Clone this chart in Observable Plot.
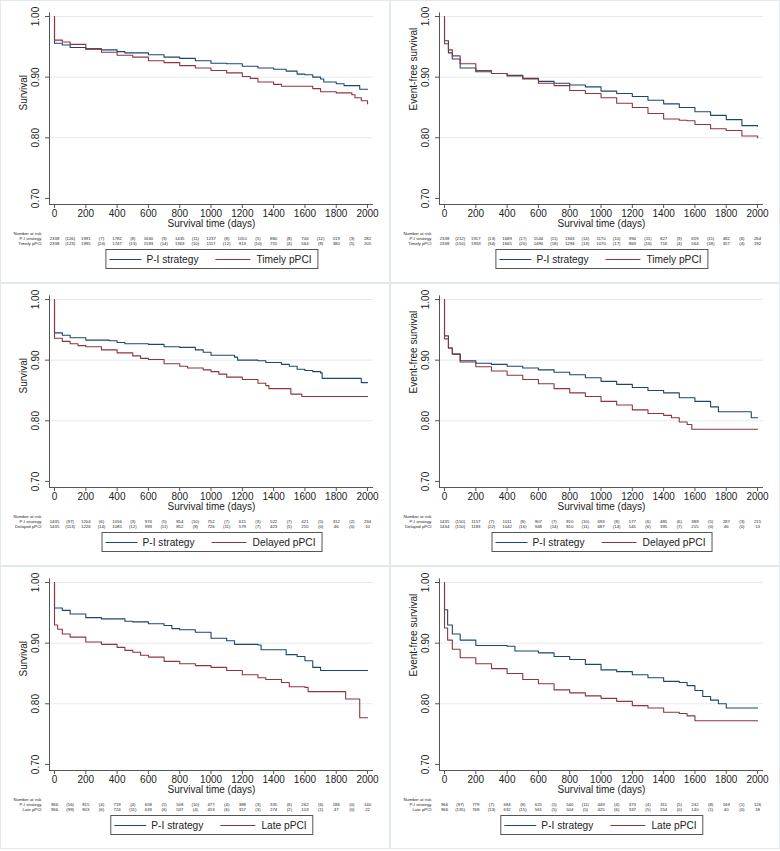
<!DOCTYPE html>
<html>
<head>
<meta charset="utf-8">
<script src="https://cdn.jsdelivr.net/npm/d3@7"></script>
<script src="https://cdn.jsdelivr.net/npm/@observablehq/plot@0.6"></script>
<style>
  body { margin: 0; background: #fff; }
  #root { position: relative; width: 780px; height: 851px; font-family: "Liberation Sans", Arial, sans-serif; }
  .panel { position: absolute; width: 390px; height: 283px; }
  .frame { position: absolute; left: 0; top: 0; width: 390px; height: 283px; box-sizing: border-box; border: 1px solid #e2e9ed; pointer-events: none; }
  .panel svg { position: absolute; left: 0; top: 0; }
  .legend { position: absolute; top: 249px; height: 20px; box-sizing: border-box; border: 1px solid #555; display: flex; align-items: center; padding: 0 6px 0 3px; font-size: 10.2px; color: #222; white-space: nowrap; transform: translateX(-50%); background: #fff; }
  .legend .sw { display: inline-block; height: 0; border-top: 1.2px solid; }
</style>
</head>
<body>
<div id="root"></div>
<script>
// ---- axes ----
const xTicks = [0, 200, 400, 600, 800, 1000, 1200, 1400, 1600, 1800, 2000];
const riskMid = [100, 300, 500, 700, 900, 1100, 1300, 1500, 1700, 1900];
const yTicks = [0.70, 0.80, 0.90, 1.00];
const gridVals = [0.80, 0.90, 1.00];

// ---- Panel 1: Survival, Timely pPCI ----
const p1_pi_t = [0,0,50,100,200,300,400,450,600,700,800,900,1000,1100,1200,1300,1400,1480,1550,1600,1650,1700,1720,1800,1850,1950,2000];
const p1_pi_s = [1,0.956,0.953,0.949,0.946,0.945,0.942,0.940,0.937,0.933,0.931,0.927,0.923,0.922,0.918,0.915,0.913,0.910,0.905,0.904,0.900,0.897,0.892,0.889,0.886,0.880,0.880];
const p1_cmp_t = [0,0,50,100,200,300,400,500,600,700,800,900,1000,1100,1200,1250,1300,1400,1450,1600,1650,1700,1800,1900,1920,1960,2000];
const p1_cmp_s = [1,0.961,0.958,0.954,0.947,0.941,0.936,0.933,0.927,0.924,0.919,0.915,0.911,0.907,0.901,0.898,0.892,0.888,0.885,0.885,0.881,0.876,0.874,0.871,0.866,0.861,0.856];
const p1_pi_n = [2338,1991,1782,1630,1435,1237,1051,880,706,519,282];
const p1_pi_e = [126,7,8,9,11,8,5,8,12,3];
const p1_cmp_n = [2338,1995,1747,1593,1363,1117,913,755,564,380,205];
const p1_cmp_e = [123,24,13,14,10,12,10,4,8,5];

// ---- Panel 2: Event-free survival, Timely pPCI ----
const p2_pi_t = [0,0,25,50,100,200,300,400,500,600,700,800,900,1000,1100,1200,1300,1400,1500,1600,1700,1800,1900,2000];
const p2_pi_s = [1,0.96,0.94,0.93,0.915,0.909,0.906,0.903,0.898,0.893,0.890,0.887,0.884,0.877,0.873,0.868,0.862,0.856,0.850,0.843,0.837,0.830,0.820,0.819];
const p2_cmp_t = [0,0,25,50,100,200,300,400,500,600,700,800,900,1000,1100,1200,1300,1400,1500,1550,1600,1700,1800,1900,2000];
const p2_cmp_s = [1,0.955,0.945,0.935,0.922,0.911,0.906,0.902,0.897,0.890,0.886,0.878,0.873,0.866,0.857,0.850,0.840,0.831,0.829,0.828,0.822,0.815,0.812,0.803,0.800];
const p2_pi_n = [2338,1917,1689,1544,1363,1170,994,827,659,482,264];
const p2_pi_e = [212,13,17,11,14,10,11,9,11,6];
const p2_cmp_n = [2338,1933,1665,1490,1294,1070,869,716,564,357,192];
const p2_cmp_e = [150,34,20,18,13,17,16,4,18,4];

// ---- Panel 3: Survival, Delayed pPCI ----
const p3_pi_t = [0,0,50,100,200,350,400,450,600,700,800,900,950,1000,1150,1170,1300,1350,1450,1500,1550,1600,1650,1700,1710,1950,1960,2000];
const p3_pi_s = [1,0.945,0.941,0.937,0.933,0.932,0.929,0.927,0.926,0.922,0.921,0.917,0.913,0.908,0.905,0.900,0.899,0.896,0.893,0.890,0.885,0.883,0.881,0.879,0.870,0.870,0.863,0.863];
const p3_cmp_t = [0,0,50,100,150,200,300,400,500,550,600,700,800,850,950,1000,1050,1100,1200,1300,1350,1370,1480,1510,1580,2000];
const p3_cmp_s = [1,0.936,0.931,0.927,0.924,0.922,0.917,0.912,0.907,0.903,0.901,0.894,0.890,0.887,0.884,0.881,0.877,0.872,0.868,0.862,0.858,0.853,0.853,0.844,0.840,0.840];
const p3_pi_n = [1435,1204,1056,974,854,752,615,522,421,312,234];
const p3_pi_e = [97,6,3,5,10,7,3,7,5,2];
const p3_cmp_n = [1435,1226,1085,993,852,726,579,423,255,46,10];
const p3_cmp_e = [113,14,12,11,8,11,7,5,0,0];

// ---- Panel 4: Event-free survival, Delayed pPCI ----
const p4_pi_t = [0,0,25,50,100,200,300,400,500,600,700,800,900,1000,1100,1200,1300,1400,1500,1600,1700,1750,1950,1960,2000];
const p4_pi_s = [1,0.94,0.92,0.91,0.899,0.895,0.893,0.890,0.887,0.884,0.880,0.876,0.871,0.865,0.860,0.855,0.850,0.846,0.838,0.832,0.823,0.815,0.815,0.805,0.805];
const p4_cmp_t = [0,0,25,50,100,200,300,400,500,600,700,800,900,1000,1100,1200,1300,1400,1450,1500,1550,1580,2000];
const p4_cmp_s = [1,0.935,0.92,0.91,0.897,0.889,0.882,0.875,0.868,0.861,0.853,0.846,0.840,0.832,0.826,0.818,0.812,0.809,0.805,0.798,0.794,0.786,0.786];
const p4_pi_n = [1435,1157,1011,907,810,693,577,485,389,287,215];
const p4_pi_e = [150,7,8,7,10,8,6,6,5,3];
const p4_cmp_n = [1434,1183,1042,948,810,687,545,395,215,46,13];
const p4_cmp_e = [150,22,16,14,11,14,6,7,0,0];

// ---- Panel 5: Survival, Late pPCI ----
const p5_pi_t = [0,0,50,100,200,300,450,500,600,700,750,800,900,1000,1100,1150,1300,1320,1450,1480,1550,1600,1650,1700,2000];
const p5_pi_s = [1,0.958,0.954,0.948,0.942,0.940,0.936,0.935,0.932,0.929,0.924,0.922,0.918,0.908,0.904,0.898,0.897,0.889,0.889,0.881,0.878,0.871,0.860,0.855,0.855];
const p5_cmp_t = [0,0,20,50,100,200,300,400,450,500,550,600,700,800,900,1000,1100,1200,1300,1350,1450,1500,1600,1620,1850,1860,1940,1950,2000];
const p5_cmp_s = [1,0.930,0.923,0.915,0.910,0.902,0.898,0.893,0.888,0.885,0.880,0.877,0.870,0.866,0.863,0.860,0.855,0.848,0.843,0.840,0.835,0.828,0.827,0.820,0.820,0.808,0.808,0.777,0.777];
const p5_pi_n = [966,815,719,658,508,477,388,335,262,186,140];
const p5_pi_e = [56,4,4,5,10,4,3,6,6,0];
const p5_cmp_n = [966,803,724,633,537,453,357,274,103,47,22];
const p5_cmp_e = [99,6,11,6,4,6,3,2,1,0];

// ---- Panel 6: Event-free survival, Late pPCI ----
const p6_pi_t = [0,0,20,50,100,200,400,450,600,700,800,900,1000,1100,1200,1300,1400,1500,1550,1600,1650,1700,1750,1800,2000];
const p6_pi_s = [1,0.955,0.93,0.915,0.905,0.896,0.895,0.887,0.884,0.878,0.873,0.865,0.856,0.853,0.848,0.843,0.837,0.835,0.830,0.822,0.812,0.806,0.800,0.793,0.793];
const p6_cmp_t = [0,0,20,50,100,200,300,400,500,600,700,800,900,1000,1100,1200,1300,1400,1500,1550,1600,2000];
const p6_cmp_s = [1,0.925,0.905,0.89,0.876,0.866,0.858,0.850,0.840,0.833,0.823,0.818,0.813,0.809,0.804,0.797,0.793,0.786,0.784,0.780,0.772,0.772];
const p6_pi_n = [966,779,684,625,540,449,373,311,242,169,126];
const p6_pi_e = [97,7,8,5,11,4,4,5,8,1];
const p6_cmp_n = [966,768,632,561,504,425,337,254,140,40,18];
const p6_cmp_e = [135,13,15,5,5,6,5,0,1,0];

const seriesPI = "P-I strategy";
const ylabels = ["Survival", "Event-free survival"];
const xlabel = "Survival time (days)";
const riskHeader = "Number at risk";
const BLUE = "#1a476f", RED = "#90353b";
const FONT = "Liberation Sans, Arial, sans-serif";

const panels = [
  {row: 0, col: 0, yl: ylabels[0], cmp: "Timely pPCI", pt: p1_pi_t, ps: p1_pi_s, ct: p1_cmp_t, cs: p1_cmp_s, pn: p1_pi_n, pe: p1_pi_e, cn: p1_cmp_n, ce: p1_cmp_e},
  {row: 0, col: 1, yl: ylabels[1], cmp: "Timely pPCI", pt: p2_pi_t, ps: p2_pi_s, ct: p2_cmp_t, cs: p2_cmp_s, pn: p2_pi_n, pe: p2_pi_e, cn: p2_cmp_n, ce: p2_cmp_e},
  {row: 1, col: 0, yl: ylabels[0], cmp: "Delayed pPCI", pt: p3_pi_t, ps: p3_pi_s, ct: p3_cmp_t, cs: p3_cmp_s, pn: p3_pi_n, pe: p3_pi_e, cn: p3_cmp_n, ce: p3_cmp_e},
  {row: 1, col: 1, yl: ylabels[1], cmp: "Delayed pPCI", pt: p4_pi_t, ps: p4_pi_s, ct: p4_cmp_t, cs: p4_cmp_s, pn: p4_pi_n, pe: p4_pi_e, cn: p4_cmp_n, ce: p4_cmp_e},
  {row: 2, col: 0, yl: ylabels[0], cmp: "Late pPCI", pt: p5_pi_t, ps: p5_pi_s, ct: p5_cmp_t, cs: p5_cmp_s, pn: p5_pi_n, pe: p5_pi_e, cn: p5_cmp_n, ce: p5_cmp_e},
  {row: 2, col: 1, yl: ylabels[1], cmp: "Late pPCI", pt: p6_pi_t, ps: p6_pi_s, ct: p6_cmp_t, cs: p6_cmp_s, pn: p6_pi_n, pe: p6_pi_e, cn: p6_cmp_n, ce: p6_cmp_e},
];

const root = document.getElementById("root");
const AX = "#555";
const RF = 4.3;

for (const p of panels) {
  const piData = p.pt.map((t, i) => ({t, s: p.ps[i]}));
  const cmpData = p.ct.map((t, i) => ({t, s: p.cs[i]}));
  const svg = Plot.plot({
    width: 390, height: 248,
    marginTop: 16, marginLeft: 49, marginRight: 17, marginBottom: 44,
    x: {domain: [-32, 2038], axis: null, label: null},
    y: {domain: [0.69, 1.0], axis: null, label: null},
    style: {background: "transparent", fontFamily: FONT, color: "#222", overflow: "visible"},
    marks: [
      Plot.ruleY(gridVals, {stroke: "#e4ecef", strokeWidth: 1}),
      Plot.ruleX([-32], {y1: 0.69, y2: 1.006, stroke: AX}),
      Plot.ruleY([0.69], {stroke: AX}),
      Plot.axisY({ticks: yTicks, tickSize: 4, tickFormat: () => "", stroke: AX, label: null}),
      Plot.text(yTicks, {x: -32, y: d => d, text: d => d.toFixed(2), rotate: -90, dx: -14, fontSize: 10, fill: "#222"}),
      Plot.axisX({ticks: xTicks, tickSize: 4, tickPadding: 1, tickFormat: d => String(d), fontSize: 10, stroke: AX, fill: "#222", label: null}),
      Plot.text([p.yl], {frameAnchor: "left", dx: -26, rotate: -90, fontSize: 10, fill: "#222"}),
      Plot.text([xlabel], {frameAnchor: "bottom", dy: 22.5, fontSize: 10, fill: "#222"}),
      Plot.line(piData, {x: "t", y: "s", curve: "step-after", stroke: BLUE, strokeWidth: 1.1}),
      Plot.line(cmpData, {x: "t", y: "s", curve: "step-after", stroke: RED, strokeWidth: 1.1}),
      // number at risk table
      Plot.text([riskHeader], {frameAnchor: "bottom-left", dx: -36, dy: 30.5, textAnchor: "start", fontSize: RF, fill: "#222"}),
      Plot.text([seriesPI], {frameAnchor: "bottom-left", dx: -8, dy: 35.5, textAnchor: "end", fontSize: RF, fill: "#222"}),
      Plot.text([p.cmp], {frameAnchor: "bottom-left", dx: -8, dy: 40.5, textAnchor: "end", fontSize: RF, fill: "#222"}),
      Plot.text(p.pn, {x: xTicks, text: d => String(d), frameAnchor: "bottom", dy: 35.5, fontSize: RF, fill: "#222"}),
      Plot.text(p.pe, {x: riskMid, text: d => `(${d})`, frameAnchor: "bottom", dy: 35.5, fontSize: RF, fill: "#222"}),
      Plot.text(p.cn, {x: xTicks, text: d => String(d), frameAnchor: "bottom", dy: 40.5, fontSize: RF, fill: "#222"}),
      Plot.text(p.ce, {x: riskMid, text: d => `(${d})`, frameAnchor: "bottom", dy: 40.5, fontSize: RF, fill: "#222"}),
    ]
  });
  const div = document.createElement("div");
  div.className = "panel";
  div.style.left = (p.col * 390) + "px";
  div.style.top = (p.row * 283) + "px";
  div.appendChild(svg);
  const leg = document.createElement("div");
  leg.className = "legend";
  leg.style.left = "212px";
  leg.innerHTML = `<span class="sw" style="width:32px;border-color:${BLUE}"></span><span style="margin-left:5px">${seriesPI}</span>` +
    `<span class="sw" style="width:35px;margin-left:17px;border-color:${RED}"></span><span style="margin-left:6px">${p.cmp}</span>`;
  div.appendChild(leg);
  const fr = document.createElement("div");
  fr.className = "frame";
  div.appendChild(fr);
  root.appendChild(div);
}
</script>
</body>
</html>
